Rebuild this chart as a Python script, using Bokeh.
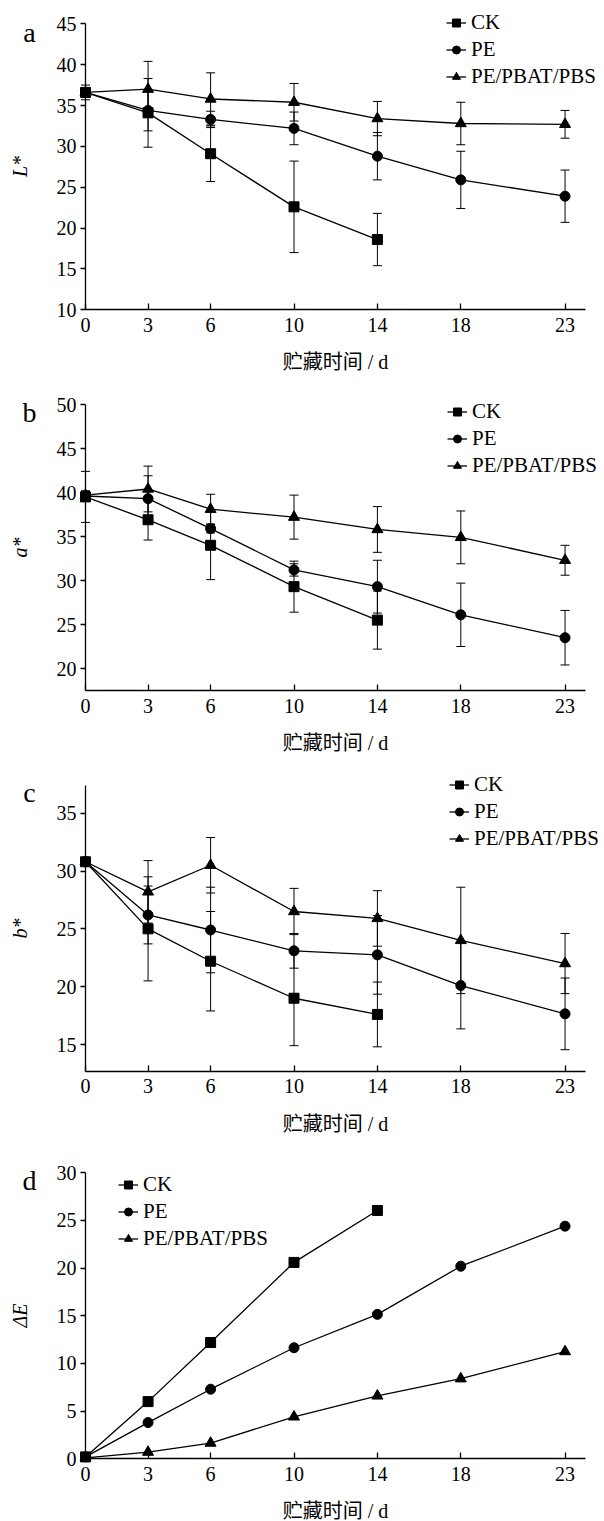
from bokeh.plotting import figure
from bokeh.layouts import column
from bokeh.models import (Range1d, FixedTicker, Whisker, TeeHead, ColumnDataSource,
                          Legend, LegendItem, Label)
from bokeh.embed import file_html
from bokeh.resources import INLINE

# ---------------- data ----------------
days = [0, 3, 6, 10, 14, 18, 23]
ck_days = [0, 3, 6, 10, 14]
series_names = ["CK", "PE", "PE/PBAT/PBS"]
x_label = "贮藏时间 / d"

# panel a: L*
L_ck = [36.6, 34.1, 29.1, 22.6, 18.6]
L_ck_err = [0.9, 4.2, 3.4, 5.6, 3.2]
L_pe = [36.6, 34.4, 33.3, 32.2, 28.8, 25.9, 23.9]
L_pe_err = [0.5, 2.5, 1.0, 2.0, 2.9, 3.5, 3.2]
L_pb = [36.6, 37.0, 35.8, 35.4, 33.4, 32.8, 32.7]
L_pb_err = [0.6, 3.4, 3.2, 2.3, 2.1, 2.6, 1.7]
L_ticks = [10, 15, 20, 25, 30, 35, 40, 45]

# panel b: a*
a_ck = [39.5, 36.9, 34.0, 29.3, 25.5]
a_ck_err = [2.9, 2.3, 3.9, 2.9, 3.3]
a_pe = [39.6, 39.3, 35.9, 31.2, 29.3, 26.1, 23.5]
a_pe_err = [0.5, 2.6, 0.5, 0.7, 3.0, 3.6, 3.1]
a_pb = [39.7, 40.4, 38.1, 37.2, 35.8, 34.9, 32.3]
a_pb_err = [0.5, 2.6, 1.7, 2.5, 2.6, 3.0, 1.7]
a_ticks = [20, 25, 30, 35, 40, 45, 50]

# panel c: b*
b_ck = [30.8, 25.0, 22.2, 19.0, 17.6]
b_ck_err = [0.3, 4.5, 4.3, 4.1, 2.8]
b_pe = [30.8, 26.2, 24.9, 23.1, 22.75, 20.1, 17.65]
b_pe_err = [0.3, 2.5, 3.7, 1.5, 3.4, 3.75, 3.1]
b_pb = [30.8, 28.2, 30.5, 26.5, 25.9, 24.0, 22.0]
b_pb_err = [0.3, 2.7, 2.4, 2.0, 2.4, 4.6, 2.6]
b_ticks = [15, 20, 25, 30, 35]

# panel d: ΔE
E_ck = [0.2, 6.0, 12.2, 20.6, 26.05]
E_pe = [0.2, 3.8, 7.3, 11.65, 15.15, 20.2, 24.4]
E_pb = [0.1, 0.7, 1.65, 4.4, 6.6, 8.4, 11.25]
E_ticks = [0, 5, 10, 15, 20, 25, 30]

# ---------------- layout / style ----------------
W = 604
SERIF = "Liberation Serif"
MIXED = "Liberation Serif, Noto Sans CJK SC"
X0_PX = 85.0        # pixel where day 0 sits
X_PPU = 20.85       # pixels per day
X_END = 24          # x-axis line ends here


def make_panel(letter, ylabel, H, vhi, phi, vlo, plo, ybounds, yticks, ys, errs,
               legend_loc, letter_base, xlab_standoff):
    k = (plo - phi) / (vhi - vlo)
    y0 = vlo - (H - plo) / k
    y1 = vhi + phi / k
    x0 = -X0_PX / X_PPU
    x1 = (W - X0_PX) / X_PPU
    p = figure(width=W, height=H, output_backend="svg", toolbar_location=None,
               x_range=Range1d(x0, x1), y_range=Range1d(y0, y1), min_border=0)
    p.outline_line_color = None
    p.grid.visible = False
    p.background_fill_color = "white"
    p.border_fill_color = "white"

    xa = p.xaxis[0]
    ya = p.yaxis[0]
    for ax in (xa, ya):
        ax.axis_line_width = 1.3
        ax.major_tick_line_width = 1.3
        ax.minor_tick_line_color = None
        ax.major_label_text_font = SERIF
        ax.major_label_text_font_size = "20px"
        ax.major_label_text_color = "black"
        ax.axis_line_color = "black"
        ax.major_tick_line_color = "black"
        ax.axis_label_text_color = "black"

    xa.fixed_location = ybounds[0]
    xa.bounds = (0, X_END)
    xa.ticker = FixedTicker(ticks=days)
    xa.major_tick_in = 6
    xa.major_tick_out = 0
    xa.major_label_standoff = 8
    xa.axis_label = x_label
    xa.axis_label_text_font = MIXED
    xa.axis_label_text_font_size = "20px"
    xa.axis_label_text_font_style = "normal"
    xa.axis_label_standoff = xlab_standoff

    ya.fixed_location = 0
    ya.bounds = ybounds
    ya.ticker = FixedTicker(ticks=yticks)
    ya.major_tick_in = 0
    ya.major_tick_out = 5
    ya.major_label_standoff = 4
    ya.axis_label = ylabel
    ya.axis_label_text_font = SERIF
    ya.axis_label_text_font_size = "20px"
    ya.axis_label_text_font_style = "italic"
    ya.axis_label_standoff = 23

    xs_list = [ck_days, days, days]
    markers = ["square", "circle", "triangle"]
    sizes = [10, 10, 11]
    items = []
    for i in range(3):
        xs = xs_list[i]
        y = ys[i]
        if errs is not None:
            e = errs[i]
            src = ColumnDataSource(dict(x=xs, upper=[a + b for a, b in zip(y, e)],
                                        lower=[a - b for a, b in zip(y, e)]))
            w = Whisker(source=src, base="x", upper="upper", lower="lower",
                        line_color="black", line_width=1, level="underlay",
                        upper_head=TeeHead(size=9, line_width=1, line_color="black"),
                        lower_head=TeeHead(size=9, line_width=1, line_color="black"))
            p.add_layout(w)
        lr = p.line(xs, y, line_color="black", line_width=1.3)
        sr = p.scatter(xs, y, marker=markers[i], size=sizes[i], fill_color="black",
                       line_color="black")
        items.append(LegendItem(label=series_names[i], renderers=[lr, sr]))

    leg = Legend(items=items, location=legend_loc, glyph_width=20, glyph_height=27,
                 label_height=27, label_standoff=5, spacing=0, padding=0, margin=0,
                 border_line_alpha=0, background_fill_alpha=0,
                 label_text_font=SERIF, label_text_font_size="21px",
                 label_text_color="black")
    p.add_layout(leg)

    p.add_layout(Label(x=29, y=H - letter_base, x_units="screen", y_units="screen",
                       text=letter, text_font=SERIF, text_font_size="28px",
                       text_align="center", text_baseline="alphabetic",
                       text_color="black"))
    return p


pa = make_panel("a", "L*", 380, 45, 23.3, 10, 309.3, (10, 45), L_ticks,
                [L_ck, L_pe, L_pb], [L_ck_err, L_pe_err, L_pb_err],
                (446, 290), 32, 16)
pb = make_panel("b", "a*", 380, 50, 24.0, 17.5, 310.0, (17.5, 50), a_ticks,
                [a_ck, a_pe, a_pb], [a_ck_err, a_pe_err, a_pb_err],
                (447, 281), 32, 16)
pc = make_panel("c", "b*", 380, 35, 52.7, 15, 284.0, (12.7, 37.4), b_ticks,
                [b_ck, b_pe, b_pb], [b_ck_err, b_pe_err, b_pb_err],
                (449, 288), 32, 16)
pd = make_panel("d", "ΔE", 381, 30, 32.3, 0, 318.3, (0, 30), E_ticks,
                [E_ck, E_pe, E_pb], None,
                (118, 269), 40, 16)

layout = column(pa, pb, pc, pd, spacing=0)
open("out.html", "w").write(file_html(layout, INLINE))
